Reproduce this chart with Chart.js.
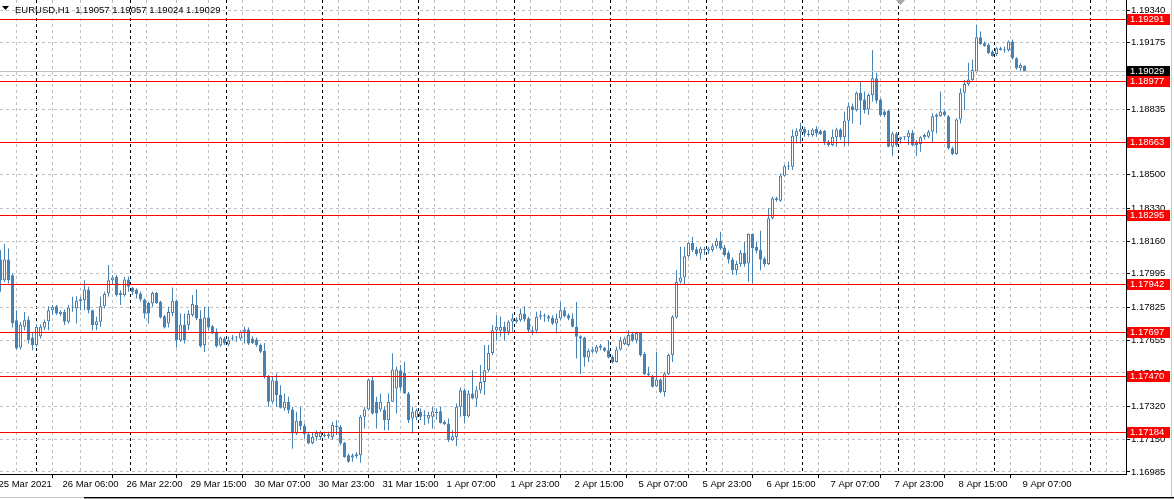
<!DOCTYPE html>
<html><head><meta charset="utf-8">
<script src="https://cdn.jsdelivr.net/npm/chart.js@4.4.1/dist/chart.umd.min.js"></script>
<style>html,body{margin:0;padding:0;background:#fff;overflow:hidden}#wrap{position:relative;width:1174px;height:499px}canvas{display:block}</style>
</head><body><div id="wrap"><canvas id="c" width="1174" height="499"></canvas></div>
<script>
// ---------- data (EURUSD H1, bar 0 = 25 Mar 2021 14:00, last bar = 9 Apr 07:00) ----------
const symbolName = 'EURUSD,H1';
const opens = [
1.18068,1.17963,1.18068,1.17988,1.17759,1.17620,1.17725,1.17762,1.17671,1.17632,
1.17677,1.17722,1.17754,1.17810,1.17830,1.17790,1.17802,1.17751,1.17824,1.17819,
1.17856,1.17861,1.17915,1.17810,1.17734,1.17751,1.17830,1.17895,1.17963,1.17980,
1.17898,1.17887,1.17966,1.17924,1.17915,1.17895,1.17864,1.17847,1.17844,1.17898,
1.17853,1.17779,1.17742,1.17796,1.17858,1.17657,1.17737,1.17734,1.17785,1.17836,
1.17768,1.17632,1.17773,1.17728,1.17700,1.17630,1.17666,1.17635,1.17664,1.17671,
1.17666,1.17700,1.17711,1.17666,1.17660,1.17632,1.17603,1.17470,1.17343,1.17450,
1.17377,1.17309,1.17343,1.17303,1.17181,1.17246,1.17220,1.17178,1.17133,1.17164,
1.17164,1.17169,1.17167,1.17164,1.17220,1.17215,1.17133,1.17070,1.17059,1.17065,
1.17070,1.17266,1.17303,1.17453,1.17343,1.17303,1.17303,1.17249,1.17343,1.17410,
1.17504,1.17490,1.17385,1.17258,1.17263,1.17292,1.17269,1.17258,1.17266,1.17286,
1.17295,1.17241,1.17232,1.17147,1.17164,1.17317,1.17402,1.17269,1.17385,1.17360,
1.17402,1.17444,1.17504,1.17592,1.17708,1.17705,1.17725,1.17700,1.17751,1.17751,
1.17759,1.17793,1.17768,1.17708,1.17705,1.17776,1.17779,1.17768,1.17771,1.17742,
1.17768,1.17810,1.17784,1.17768,1.17725,1.17677,1.17671,1.17569,1.17598,1.17598,
1.17618,1.17618,1.17606,1.17572,1.17546,1.17609,1.17637,1.17632,1.17688,1.17657,
1.17694,1.17586,1.17479,1.17470,1.17422,1.17456,1.17393,1.17484,1.17581,1.17773,
1.17955,1.17977,1.18085,1.18153,1.18121,1.18099,1.18116,1.18113,1.18116,1.18136,
1.18164,1.18130,1.18102,1.18068,1.18014,1.18045,1.18102,1.18048,1.18198,1.18133,
1.18116,1.18073,1.18045,1.18278,1.18380,1.18368,1.18495,1.18541,1.18541,1.18697,
1.18720,1.18733,1.18711,1.18703,1.18733,1.18723,1.18723,1.18669,1.18652,1.18691,
1.18731,1.18691,1.18776,1.18850,1.18830,1.18918,1.18884,1.18833,1.18907,1.18992,
1.18884,1.18822,1.18827,1.18643,1.18711,1.18680,1.18691,1.18691,1.18714,1.18663,
1.18657,1.18691,1.18694,1.18720,1.18796,1.18799,1.18822,1.18799,1.18635,1.18606,
1.18782,1.18918,1.18963,1.18983,1.19026,1.19201,1.19170,1.19162,1.19128,1.19116,
1.19136,1.19133,1.19136,1.19179,1.19094,1.19043,1.19057];
const highs = [
1.18116,1.18147,1.18124,1.17997,1.17810,1.17750,1.17801,1.17779,1.17694,1.17739,
1.17737,1.17762,1.17830,1.17836,1.17836,1.17810,1.17813,1.17836,1.17878,1.17881,
1.17878,1.17963,1.17929,1.17813,1.17776,1.17878,1.17904,1.18040,1.17988,1.17988,
1.17912,1.17980,1.17980,1.17929,1.17921,1.17904,1.17870,1.17853,1.17904,1.17904,
1.17858,1.17785,1.17827,1.17926,1.17864,1.17793,1.17793,1.17810,1.17887,1.17915,
1.17810,1.17827,1.17827,1.17734,1.17717,1.17674,1.17674,1.17674,1.17683,1.17677,
1.17708,1.17725,1.17722,1.17677,1.17671,1.17640,1.17643,1.17479,1.17470,1.17487,
1.17427,1.17385,1.17368,1.17317,1.17292,1.17317,1.17232,1.17190,1.17184,1.17195,
1.17195,1.17190,1.17190,1.17241,1.17249,1.17224,1.17138,1.17079,1.17079,1.17087,
1.17275,1.17317,1.17462,1.17470,1.17368,1.17385,1.17317,1.17385,1.17589,1.17521,
1.17530,1.17547,1.17393,1.17317,1.17309,1.17309,1.17300,1.17292,1.17317,1.17309,
1.17317,1.17249,1.17258,1.17198,1.17334,1.17416,1.17410,1.17402,1.17504,1.17422,
1.17530,1.17632,1.17632,1.17734,1.17784,1.17776,1.17751,1.17759,1.17793,1.17773,
1.17818,1.17830,1.17776,1.17728,1.17802,1.17807,1.17793,1.17786,1.17784,1.17793,
1.17852,1.17824,1.17793,1.17793,1.17852,1.17682,1.17674,1.17615,1.17623,1.17632,
1.17637,1.17623,1.17657,1.17581,1.17623,1.17674,1.17674,1.17708,1.17700,1.17700,
1.17700,1.17598,1.17521,1.17479,1.17598,1.17462,1.17496,1.17589,1.17785,1.18014,
1.18133,1.18133,1.18158,1.18184,1.18133,1.18133,1.18133,1.18133,1.18150,1.18176,
1.18210,1.18142,1.18113,1.18079,1.18062,1.18116,1.18158,1.18201,1.18201,1.18158,
1.18215,1.18082,1.18329,1.18388,1.18388,1.18507,1.18550,1.18567,1.18731,1.18737,
1.18765,1.18745,1.18728,1.18737,1.18748,1.18731,1.18728,1.18677,1.18731,1.18740,
1.18737,1.18822,1.18867,1.18864,1.18924,1.18975,1.18924,1.18915,1.19136,1.19020,
1.18890,1.18830,1.18830,1.18720,1.18720,1.18694,1.18697,1.18728,1.18728,1.18677,
1.18697,1.18711,1.18728,1.18813,1.18813,1.18924,1.18830,1.18805,1.18643,1.18788,
1.18941,1.18983,1.19071,1.19088,1.19264,1.19230,1.19179,1.19170,1.19136,1.19150,
1.19153,1.19153,1.19184,1.19190,1.19099,1.19068,1.19057];
const lows = [
1.17904,1.17954,1.17946,1.17722,1.17609,1.17609,1.17708,1.17640,1.17606,1.17623,
1.17666,1.17708,1.17708,1.17785,1.17785,1.17779,1.17734,1.17742,1.17802,1.17742,
1.17810,1.17810,1.17793,1.17705,1.17708,1.17725,1.17819,1.17878,1.17938,1.17878,
1.17836,1.17878,1.17904,1.17887,1.17870,1.17853,1.17768,1.17742,1.17827,1.17841,
1.17768,1.17717,1.17722,1.17779,1.17620,1.17649,1.17640,1.17708,1.17776,1.17759,
1.17620,1.17597,1.17708,1.17688,1.17620,1.17623,1.17632,1.17626,1.17654,1.17649,
1.17657,1.17640,1.17632,1.17637,1.17623,1.17592,1.17462,1.17317,1.17334,1.17317,
1.17309,1.17297,1.17283,1.17104,1.17173,1.17198,1.17156,1.17127,1.17127,1.17144,
1.17150,1.17161,1.17156,1.17150,1.17173,1.17121,1.17057,1.17032,1.17037,1.17054,
1.17032,1.17207,1.17300,1.17278,1.17207,1.17292,1.17198,1.17198,1.17343,1.17283,
1.17399,1.17382,1.17235,1.17181,1.17249,1.17249,1.17224,1.17232,1.17207,1.17252,
1.17232,1.17224,1.17138,1.17144,1.17116,1.17266,1.17232,1.17263,1.17356,1.17317,
1.17385,1.17377,1.17496,1.17581,1.17654,1.17674,1.17657,1.17683,1.17700,1.17742,
1.17751,1.17751,1.17694,1.17683,1.17691,1.17762,1.17751,1.17751,1.17734,1.17691,
1.17759,1.17773,1.17759,1.17722,1.17564,1.17484,1.17521,1.17546,1.17589,1.17589,
1.17606,1.17598,1.17564,1.17538,1.17543,1.17603,1.17632,1.17623,1.17649,1.17640,
1.17572,1.17479,1.17473,1.17416,1.17419,1.17388,1.17368,1.17479,1.17546,1.17767,
1.17946,1.17943,1.18079,1.18107,1.18085,1.18068,1.18091,1.18096,1.18107,1.18124,
1.18116,1.18082,1.18048,1.17989,1.17989,1.18031,1.18031,1.17955,1.17946,1.18099,
1.18014,1.18031,1.18040,1.18272,1.18363,1.18363,1.18490,1.18524,1.18524,1.18660,
1.18660,1.18694,1.18694,1.18694,1.18694,1.18703,1.18652,1.18643,1.18646,1.18643,
1.18677,1.18643,1.18652,1.18762,1.18822,1.18754,1.18813,1.18805,1.18873,1.18864,
1.18799,1.18793,1.18640,1.18595,1.18643,1.18660,1.18677,1.18652,1.18646,1.18595,
1.18618,1.18680,1.18686,1.18663,1.18711,1.18796,1.18799,1.18629,1.18601,1.18601,
1.18762,1.18830,1.18952,1.18980,1.19020,1.19162,1.19153,1.19116,1.19102,1.19105,
1.19133,1.19122,1.19128,1.19088,1.19037,1.19026,1.19024];
const closes = [
1.17963,1.18068,1.17963,1.17745,1.17614,1.17737,1.17759,1.17657,1.17632,1.17725,
1.17725,1.17750,1.17810,1.17827,1.17793,1.17802,1.17751,1.17824,1.17823,1.17858,
1.17866,1.17915,1.17810,1.17734,1.17754,1.17830,1.17892,1.17963,1.17977,1.17887,
1.17887,1.17966,1.17929,1.17904,1.17892,1.17864,1.17793,1.17793,1.17898,1.17847,
1.17773,1.17722,1.17801,1.17858,1.17657,1.17737,1.17657,1.17790,1.17841,1.17768,
1.17626,1.17773,1.17722,1.17691,1.17626,1.17671,1.17640,1.17657,1.17671,1.17672,
1.17700,1.17711,1.17640,1.17643,1.17632,1.17598,1.17470,1.17343,1.17453,1.17377,
1.17312,1.17343,1.17300,1.17181,1.17246,1.17220,1.17178,1.17130,1.17164,1.17184,
1.17186,1.17168,1.17178,1.17224,1.17215,1.17130,1.17062,1.17037,1.17070,1.17075,
1.17266,1.17303,1.17456,1.17283,1.17283,1.17343,1.17249,1.17343,1.17507,1.17507,
1.17416,1.17385,1.17249,1.17292,1.17300,1.17266,1.17270,1.17275,1.17295,1.17287,
1.17235,1.17229,1.17147,1.17167,1.17317,1.17402,1.17269,1.17385,1.17360,1.17402,
1.17444,1.17504,1.17592,1.17708,1.17725,1.17725,1.17700,1.17751,1.17768,1.17762,
1.17793,1.17762,1.17708,1.17700,1.17776,1.17784,1.17780,1.17779,1.17742,1.17768,
1.17810,1.17779,1.17768,1.17725,1.17674,1.17666,1.17569,1.17603,1.17609,1.17623,
1.17628,1.17603,1.17569,1.17546,1.17609,1.17657,1.17666,1.17683,1.17654,1.17694,
1.17581,1.17484,1.17487,1.17419,1.17456,1.17393,1.17487,1.17581,1.17776,1.17955,
1.17977,1.18085,1.18153,1.18116,1.18096,1.18124,1.18117,1.18124,1.18136,1.18164,
1.18124,1.18091,1.18068,1.18014,1.18045,1.18102,1.18045,1.18198,1.18125,1.18113,
1.18068,1.18045,1.18278,1.18380,1.18371,1.18495,1.18544,1.18544,1.18699,1.18725,
1.18733,1.18711,1.18703,1.18731,1.18711,1.18708,1.18669,1.18652,1.18694,1.18731,
1.18691,1.18776,1.18850,1.18830,1.18918,1.18878,1.18830,1.18907,1.18992,1.18878,
1.18805,1.18805,1.18643,1.18711,1.18652,1.18691,1.18692,1.18714,1.18652,1.18652,
1.18691,1.18703,1.18720,1.18799,1.18805,1.18822,1.18805,1.18635,1.18606,1.18782,
1.18918,1.18963,1.18986,1.19034,1.19201,1.19167,1.19156,1.19119,1.19105,1.19145,
1.19145,1.19139,1.19179,1.19094,1.19043,1.19060,1.19029];

// bar indices where a new trading day starts (day separators)
const dayStartBars = [10,33,57,81,105,129,153,177,201,225,249,273];
// time-axis labels and the bar index each belongs to
const labelBars = [0,16,32,48,64,80,96,112,128,144,160,176,192,208,224,240,256];
const xLabels = ['25 Mar 2021','26 Mar 06:00','26 Mar 22:00','29 Mar 15:00','30 Mar 07:00','30 Mar 23:00','31 Mar 15:00','1 Apr 07:00','1 Apr 23:00','2 Apr 15:00','5 Apr 07:00','5 Apr 23:00','6 Apr 15:00','7 Apr 07:00','7 Apr 23:00','8 Apr 15:00','9 Apr 07:00'];
const gridEveryBars = 8;
const totalSlots = 282;
// horizontal levels drawn on the chart
const levels = [1.19291,1.18977,1.18663,1.18295,1.17942,1.17697,1.17470,1.17184];
// price-axis tick values
const yTicks = [1.19340,1.19175,1.19005,1.18835,1.18665,1.18500,1.18330,1.18160,1.17995,1.17825,1.17655,1.17490,1.17320,1.17150,1.16985];
const yMin = 1.169748, yMax = 1.193910;

if (![highs.length, lows.length, closes.length].every(n => n === opens.length)) throw new Error('length mismatch ' + [opens.length, highs.length, lows.length, closes.length]);

// ---------- chart ----------
const BLUE = '#4682B4';
const FONT = '"Liberation Sans", Arial, sans-serif';
Chart.defaults.font.family = FONT;
const last = opens.length - 1;

const xTickBars = [];
for (let k = 0; k < totalSlots; k += gridEveryBars) xTickBars.push(k);
dayStartBars.forEach(k => xTickBars.push(k));
xTickBars.sort((a, b) => a - b);
const labelMap = {};
labelBars.forEach((k, i) => labelMap[k] = xLabels[i]);

const wickData = opens.map((o, i) => ({x: i, y: [lows[i], highs[i]]}));
const bodyData = opens.map((o, i) => ({x: i, y: [o, closes[i]]}));

const overlay = {
  id: 'overlay',
  afterDatasetsDraw(chart) {
    const {ctx, chartArea: a, scales: {y}} = chart;
    ctx.save();
    // bid line (current price)
    let py = Math.floor(y.getPixelForValue(closes[last])) + 0.5;
    ctx.strokeStyle = '#c0c0c0'; ctx.lineWidth = 1;
    ctx.beginPath(); ctx.moveTo(a.left, py); ctx.lineTo(a.right, py); ctx.stroke();
    ctx.strokeStyle = '#ff0000';
    levels.forEach(v => {
      const p = Math.floor(y.getPixelForValue(v)) + 0.5;
      ctx.beginPath(); ctx.moveTo(a.left, p); ctx.lineTo(a.right, p); ctx.stroke();
    });
    ctx.restore();
  },
  afterDraw(chart) {
    const {ctx, chartArea: a, scales: {y}} = chart;
    ctx.save();
    ctx.font = '9.5px ' + FONT;
    ctx.textBaseline = 'middle';
    const box = (v, col) => {
      const p = Math.floor(y.getPixelForValue(v));
      ctx.fillStyle = col;
      ctx.fillRect(a.right + 1, p - 5, 43, 11);
      ctx.fillStyle = '#fff';
      ctx.fillText(v.toFixed(5), a.right + 4, p + 0.5);
    };
    box(closes[last], '#000');
    levels.forEach(v => box(v, '#ff0000'));
    // header
    ctx.fillStyle = '#000';
    ctx.beginPath(); ctx.moveTo(2, 6); ctx.lineTo(9, 6); ctx.lineTo(5.5, 10); ctx.closePath(); ctx.fill();
    ctx.font = '9.5px ' + FONT;
    ctx.textBaseline = 'alphabetic';
    const hdr = symbolName + '  ' + [opens[last], highs[last], lows[last], closes[last]].map(v => v.toFixed(5)).join(' ');
    ctx.fillText(hdr, 15, 13);
    // chart-shift marker
    ctx.fillStyle = '#a8a8a8';
    ctx.beginPath(); ctx.moveTo(896, 0); ctx.lineTo(905, 0); ctx.lineTo(900.5, 5); ctx.closePath(); ctx.fill();
    // window frame bits
    ctx.fillStyle = '#c8c8c8';
    ctx.fillRect(1171, 0, 1, 497);
    ctx.fillRect(0, 497, 84, 1);
    ctx.fillStyle = '#000';
    ctx.fillRect(84, 497, 1090, 1);
    ctx.fillStyle = '#9a9a9a';
    ctx.fillRect(84, 498, 1090, 1);
    ctx.restore();
  }
};

new Chart(document.getElementById('c'), {
  type: 'bar',
  data: {
    datasets: [
      {label: 'wick', data: wickData, backgroundColor: BLUE, borderWidth: 0, barThickness: 1, grouped: false, inflateAmount: 0, order: 2},
      {label: 'body', data: bodyData,
       backgroundColor: c => closes[c.dataIndex] >= opens[c.dataIndex] ? '#ffffff' : BLUE,
       borderColor: BLUE, borderWidth: 1, borderSkipped: false, barThickness: 3, minBarLength: 1,
       grouped: false, inflateAmount: 0, order: 1}
    ]
  },
  options: {
    responsive: false, animation: false, devicePixelRatio: 1,
    layout: {padding: 0, autoPadding: false},
    plugins: {legend: {display: false}, tooltip: {enabled: false}, title: {display: false}},
    scales: {
      x: {
        type: 'linear', position: 'bottom', min: -0.125, max: 281.375, offset: false,
        afterBuildTicks: s => { s.ticks = xTickBars.map(v => ({value: v})); },
        afterFit: s => { s.height = 25; s.paddingLeft = 0; s.paddingRight = 0; },
        ticks: {autoSkip: false, maxRotation: 0, minRotation: 0, align: 'start', padding: 1, labelOffset: -2, color: '#000',
                font: {size: 9.5, family: FONT}, callback: v => labelMap[v] !== undefined ? labelMap[v] : ''},
        grid: {
          color: c => dayStartBars.includes(c.tick && c.tick.value) ? '#000000' : '#c0c0c0',
          tickColor: c => (c.tick && labelMap[c.tick.value] !== undefined && c.tick.value > 0) ? '#000000' : 'rgba(0,0,0,0)',
          tickLength: 4, lineWidth: 1
        },
        border: {display: true, color: '#000', width: 1, dash: [3, 3]}
      },
      y: {
        type: 'linear', position: 'right', min: yMin, max: yMax,
        afterBuildTicks: s => { s.ticks = yTicks.map(v => ({value: v})); },
        afterFit: s => { s.width = 48; s.paddingTop = 0; s.paddingBottom = 0; },
        ticks: {autoSkip: false, padding: 1, color: '#000', font: {size: 9.5, family: FONT}, callback: v => Number(v).toFixed(5)},
        grid: {color: '#c0c0c0', tickColor: '#000', tickLength: 4, lineWidth: 1},
        border: {display: true, color: '#000', width: 1, dash: [3, 3]}
      }
    }
  },
  plugins: [overlay]
});
</script></body></html>
